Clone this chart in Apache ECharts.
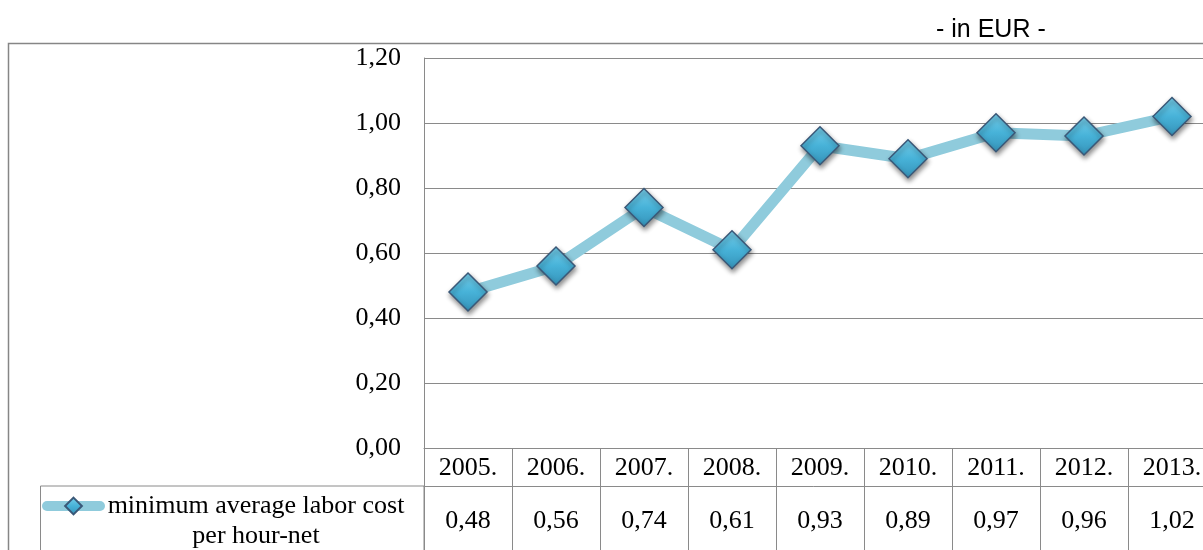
<!DOCTYPE html>
<html><head><meta charset="utf-8">
<script src="https://cdn.jsdelivr.net/npm/echarts@6/dist/echarts.min.js"></script>
<style>html,body{margin:0;padding:0;background:#fff}#c{width:1203px;height:550px}</style>
</head><body><div id="c"></div>
<script>
const categories = ['2005.', '2006.', '2007.', '2008.', '2009.', '2010.', '2011.', '2012.', '2013.'];
const values = [0.48, 0.56, 0.74, 0.61, 0.93, 0.89, 0.97, 0.96, 1.02];
const yMin = 0, yMax = 1.2, yStep = 0.2;
const legendLines = ['minimum average labor cost', 'per hour-net'];
const seriesName = legendLines.join(' ');
const unitLabel = '- in EUR -';

const SERIF = "'Liberation Serif', 'Times New Roman', serif";
const SANS = "'Liberation Sans', Arial, sans-serif";
const GRID = '#8a8a8a';
const fmt = v => Number(v).toFixed(2).replace('.', ',');

const chart = echarts.init(document.getElementById('c'), null, {renderer: 'canvas'});
chart.setOption({
  animation: false,
  backgroundColor: '#fff',
  title: {
    text: unitLabel, left: 936, top: 18, padding: 0,
    textStyle: {fontFamily: SANS, fontSize: 25, fontWeight: 'normal', color: '#000'}
  },
  graphic: [
    {type: 'rect', z: 0, shape: {x: 8.5, y: 43.5, width: 1300, height: 600},
     style: {fill: 'none', stroke: '#868686', lineWidth: 1.5}},
    {type: 'rect', z: 0, shape: {x: 40.5, y: 486, width: 383.5, height: 100},
     style: {fill: 'none', stroke: GRID, lineWidth: 1}}
  ],
  grid: {left: 424, top: 58, width: 792, height: 390, outerBoundsMode: 'none', containLabel: false},
  legend: {
    left: 42, top: 461, padding: 0,
    itemWidth: 53, itemHeight: 21,
    lineStyle: {width: 10, cap: 'round'},
    formatter: () => '{s| }\n{a|' + legendLines[0] + '}\n{a|' + legendLines[1] + '}',
    textStyle: {
      fontFamily: SERIF, fontSize: 26, color: '#000', lineHeight: 30,
      rich: {
        s: {fontFamily: SERIF, fontSize: 26, lineHeight: 30},
        a: {fontFamily: SERIF, fontSize: 26, lineHeight: 30, color: '#000', width: 302, align: 'center'}
      }
    }
  },
  xAxis: [
    {
      type: 'category', data: categories, boundaryGap: true, position: 'bottom',
      axisLine: {show: true, lineStyle: {color: GRID, width: 1}},
      axisTick: {show: true, interval: 0, length: 130, lineStyle: {color: GRID, width: 1}},
      axisLabel: {interval: 0, margin: 20, verticalAlign: 'middle', lineHeight: 26,
                  fontFamily: SERIF, fontSize: 26, color: '#000'},
      splitLine: {show: false}
    },
    {
      type: 'category', data: categories, boundaryGap: true, position: 'bottom', offset: 38,
      axisLine: {show: true, lineStyle: {color: GRID, width: 1}},
      axisTick: {show: false},
      axisLabel: {interval: 0, margin: 35, verticalAlign: 'middle', lineHeight: 26,
                  fontFamily: SERIF, fontSize: 26, color: '#000',
                  formatter: (v, i) => fmt(values[i])},
      splitLine: {show: false}
    }
  ],
  yAxis: {
    type: 'value', min: yMin, max: yMax, interval: yStep,
    axisLine: {show: true, lineStyle: {color: GRID, width: 1}},
    axisTick: {show: false},
    axisLabel: {margin: 23, fontFamily: SERIF, fontSize: 26, color: '#000', formatter: v => fmt(v)},
    splitLine: {show: true, lineStyle: {color: GRID, width: 1}}
  },
  series: [{
    name: seriesName,
    type: 'line',
    xAxisIndex: 0,
    data: values,
    symbol: 'diamond',
    symbolSize: 38,
    lineStyle: {color: '#8fcbdc', width: 11},
    itemStyle: {
      color: new echarts.graphic.LinearGradient(0, 0, 0, 1, [
        {offset: 0, color: '#78d0ec'},
        {offset: 0.5, color: '#47b2d8'},
        {offset: 1, color: '#3592b8'}
      ]),
      borderColor: '#3a5878', borderWidth: 1.5,
      shadowBlur: 5, shadowOffsetX: 1, shadowOffsetY: 3, shadowColor: 'rgba(0,0,0,0.45)'
    },
    emphasis: {disabled: true}
  }]
});
</script></body></html>
